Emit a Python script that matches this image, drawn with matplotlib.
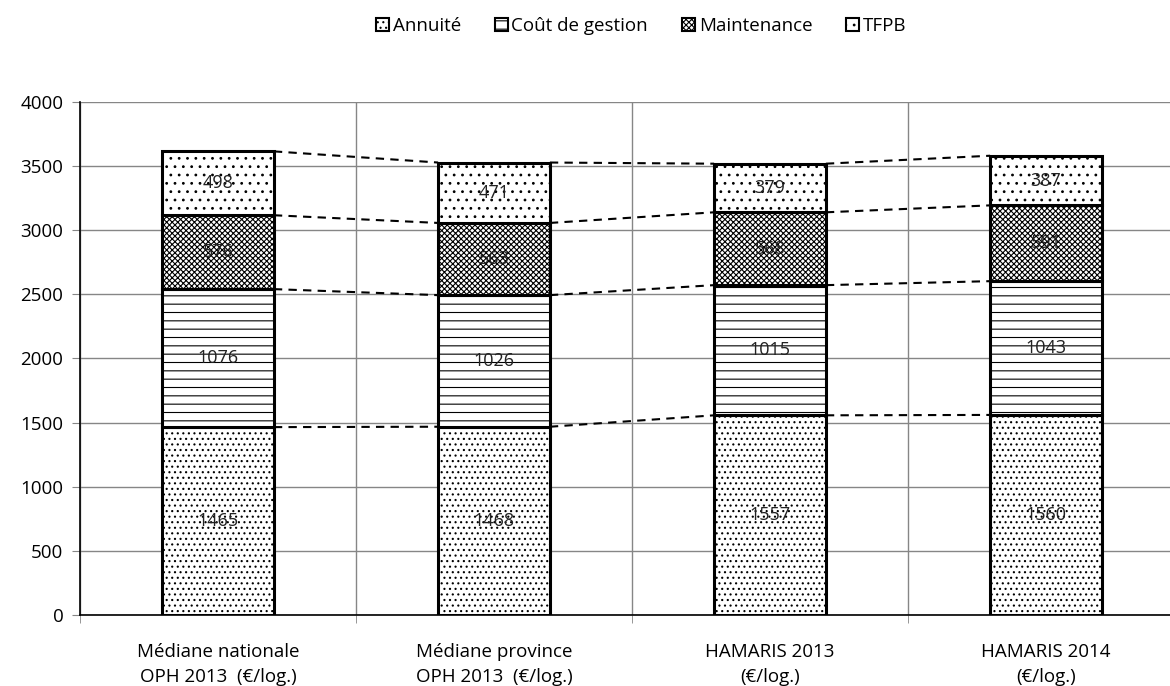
import numpy as np
import matplotlib
matplotlib.use("Agg")
import matplotlib.pyplot as plt
from matplotlib.patches import Patch

plt.rcParams["font.family"] = ["Open Sans", "DejaVu Sans"]
plt.rcParams["hatch.linewidth"] = 0.8

categories = ["Médiane nationale\nOPH 2013  (€/log.)",
              "Médiane province\nOPH 2013  (€/log.)",
              "HAMARIS 2013\n(€/log.)",
              "HAMARIS 2014\n(€/log.)"]
annuite = [1465, 1468, 1557, 1560]
cout_gestion = [1076, 1026, 1015, 1043]
maintenance = [576, 563, 568, 591]
tfpb = [498, 471, 379, 387]

series = [("Annuité", annuite, "..."),
          ("Coût de gestion", cout_gestion, "--"),
          ("Maintenance", maintenance, "xxxxxx"),
          ("TFPB", tfpb, "..")]

fig = plt.figure(figsize=(11.7, 6.86), dpi=100)
ax = fig.add_axes([80 / 1170, 1 - 615 / 686, 1104 / 1170, 513 / 686])

x = np.arange(len(categories))
w = 0.405
bottom = np.zeros(len(categories))
tops = []
for nome, vals, hatch in series:
    vals = np.array(vals, dtype=float)
    ax.bar(x, vals, w, bottom=bottom, color="white", edgecolor="black",
           linewidth=2.2, hatch=hatch, zorder=3)
    for xi, b, v in zip(x, bottom, vals):
        ax.text(xi, b + v / 2, f"{int(v)}", ha="center", va="center",
                fontsize=13, color="#222222", zorder=5)
    bottom = bottom + vals
    tops.append(bottom.copy())

# lignes de liaison pointillees entre les barres
for t in tops:
    for i in range(len(x) - 1):
        ax.plot([x[i] + w / 2, x[i + 1] - w / 2], [t[i], t[i + 1]],
                color="black", linestyle=(0, (4, 3)), linewidth=1.5, zorder=2)

ax.set_xlim(-0.5, len(categories) - 0.5)
ax.set_ylim(0, 4000)
ax.set_yticks(np.arange(0, 4001, 500))
ax.set_xticks(x)
ax.set_xticklabels(categories, fontsize=13.5, linespacing=1.55)
ax.set_xticks(np.arange(-0.5, len(categories) - 0.4, 1), minor=True)
ax.tick_params(axis="x", which="major", length=0, pad=20)
ax.tick_params(axis="x", which="minor", length=6, color="#868686", direction="out")
ax.tick_params(axis="y", length=6, labelsize=13.5, color="#868686", pad=6)
ax.grid(axis="y", color="#868686", linewidth=1, zorder=0)
ax.grid(axis="x", which="minor", color="#868686", linewidth=1, zorder=0)
for s in ["top", "right"]:
    ax.spines[s].set_visible(False)
ax.spines["left"].set_color("black")
ax.spines["bottom"].set_color("black")
ax.spines["left"].set_linewidth(1.2)
ax.spines["bottom"].set_linewidth(1.2)

handles = [Patch(facecolor="white", edgecolor="black", linewidth=1.5, hatch=h, label=n)
           for n, _, h in series]
fig.legend(handles=handles, loc="center", bbox_to_anchor=(641 / 1170, 1 - 26 / 686),
           ncol=4, frameon=False, fontsize=13.5, handlelength=0.7, handleheight=0.7,
           handletextpad=0.2, columnspacing=1.8)

fig.savefig("out.png", dpi=100)
plt.close(fig)
